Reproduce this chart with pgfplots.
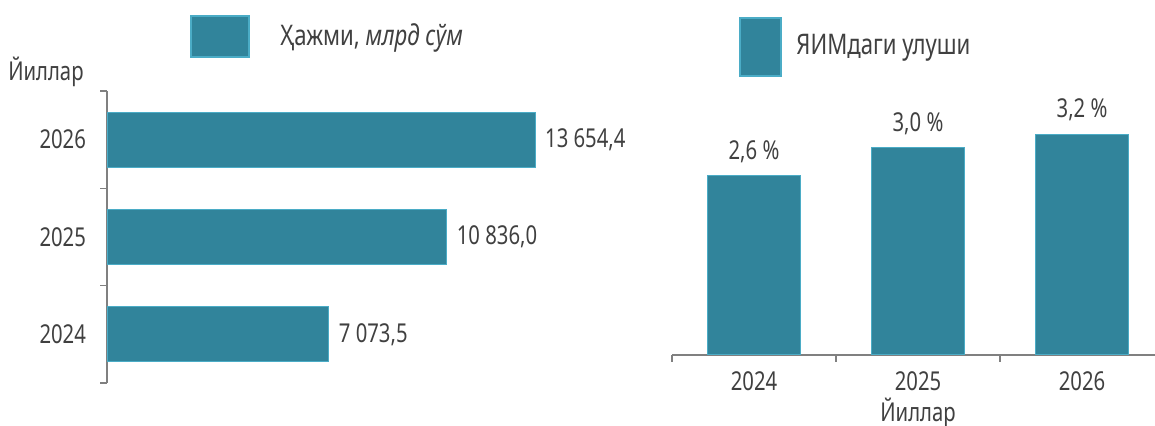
\documentclass[border=0pt]{standalone}
\usepackage{fontspec}
\setmainfont{Noto Sans}[FakeStretch=0.78]
\usepackage{pgfplots}
\pgfplotsset{compat=1.18}
\definecolor{barfill}{RGB}{49,132,155}
\definecolor{baredge}{RGB}{75,172,198}
\definecolor{txt}{RGB}{64,64,64}
\definecolor{axgray}{RGB}{128,128,128}
\begin{document}
\begin{tikzpicture}[x=0.5pt,y=0.5pt,font=\fontsize{13pt}{15pt}\selectfont,text=txt]
\useasboundingbox (0,0) rectangle (1155,426);
% legends
\draw[baredge,line width=1pt,fill=barfill] (191,410) rectangle (249,369);
\node[anchor=west,inner sep=0pt,font=\fontsize{14.2pt}{16pt}\selectfont] at (280,388) {Ҳажми, \textit{млрд сўм}};
\draw[baredge,line width=1pt,fill=barfill] (740,408) rectangle (781,350);
\node[anchor=west,inner sep=0pt,font=\fontsize{14.2pt}{16pt}\selectfont] at (796,378) {ЯИМдаги улуши};
\node[anchor=east,inner sep=0pt] at (84,354) {Йиллар};
\node[inner sep=0pt] at (918,13) {Йиллар};
% left chart
\begin{axis}[
  at={(53.5pt,21.5pt)}, anchor=south west, scale only axis,
  width=214pt, height=146pt,
  xmin=0, xmax=13654.4, ymin=-0.5, ymax=2.5,
  xbar, bar width=27.5pt,
  hide x axis, axis y line*=left,
  y axis line style={axgray,line width=0.8pt},
  ytick={0,1,2}, yticklabels={2024,2025,2026},
  major tick length=0pt,
  extra y ticks={-0.5,0.5,1.5,2.5}, extra y tick labels={},
  extra y tick style={major tick length=3.5pt, tick align=outside, tick style={axgray,line width=0.8pt}},
  yticklabel style={anchor=east, xshift=-7pt, text=txt},
  point meta=explicit symbolic,
  nodes near coords, nodes near coords align={horizontal},
  every node near coord/.append style={anchor=west, xshift=1.5pt, text=txt},
  clip=false,
]
\addplot[fill=barfill, draw=baredge, line width=0.5pt] coordinates {
  (7073.5,0) [7 073,5]
  (10836.0,1) [10 836,0]
  (13654.4,2) [13 654,4]
};
\end{axis}
% right chart
\begin{axis}[
  at={(336pt,35.5pt)}, anchor=south west, scale only axis,
  width=241.5pt, height=138pt,
  xmin=-0.5, xmax=2.445, ymin=0, ymax=4,
  ybar, bar width=46.5pt,
  hide y axis, axis x line*=bottom,
  x axis line style={axgray,line width=0.8pt},
  xtick={0,1,2}, xticklabels={2024,2025,2026},
  major tick length=0pt,
  extra x ticks={-0.5,0.5,1.5}, extra x tick labels={},
  extra x tick style={major tick length=3.5pt, tick align=outside, tick style={axgray,line width=0.8pt}},
  xticklabel style={anchor=north, yshift=-5pt, text=txt},
  point meta=explicit symbolic,
  nodes near coords,
  every node near coord/.append style={anchor=south, yshift=3pt, text=txt},
  clip=false,
]
\addplot[fill=barfill, draw=baredge, line width=0.5pt] coordinates {
  (0,2.6) [2,6 \%]
  (1,3.0) [3,0 \%]
  (2,3.2) [3,2 \%]
};
\end{axis}
\end{tikzpicture}
\end{document}
